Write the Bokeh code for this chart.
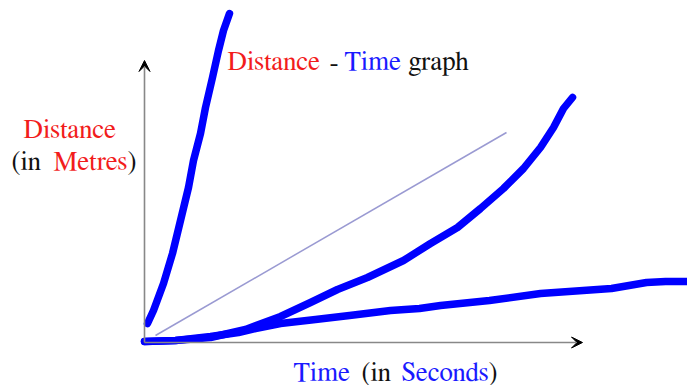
from bokeh.plotting import figure
from bokeh.models import Range1d, Arrow, VeeHead, ColumnDataSource
from bokeh.embed import file_html
from bokeh.resources import INLINE
from bokeh.core.properties import value

# Time / distance samples for the three motion curves (arbitrary units)
fast_time = [3, 9, 19, 28, 36, 44, 49, 56, 61, 68, 74, 79, 85]
fast_dist = [19, 32, 59, 89, 122, 155, 182, 209, 235, 265, 292, 312, 329]

accel_time = [0, 31, 66, 101, 136, 166, 193, 223, 259, 286, 313, 336, 359, 379, 396, 409, 419, 428]
accel_dist = [1, 2, 5, 13, 26, 40, 53, 65, 82, 99, 115, 134, 154, 174, 195, 215, 234, 245]

slow_time = [0, 31, 66, 94, 111, 136, 171, 205, 246, 275, 296, 345, 396, 467, 502, 521, 543]
slow_dist = [1, 2, 6, 10, 14, 19, 23, 27, 32, 34, 37, 42, 49, 54, 60, 61, 61]

# Constant-speed reference line
steady_time = [11, 362]
steady_dist = [7, 210]

# Axis arrow lengths
time_axis_end = 438
dist_axis_end = 282

# Text pieces: (text, x, y, colour)
RED, BLUE, BLACK = "#f21c1c", "#1a1aff", "#111111"
title_text = ["Distance", "-", "Time", "graph"]
title_x = [83, 185, 200, 264]
title_y = [281, 281, 281, 281]
title_color = [RED, BLACK, BLUE, BLACK]

ylab_text = ["Distance", "(in", "Metres", ")"]
ylab_x = [-121, -133, -91, -17]
ylab_y = [213, 181, 181, 181]
ylab_color = [RED, BLACK, RED, BLACK]

xlab_text = ["Time", "(in", "Seconds", ")"]
xlab_x = [149, 217, 257, 344]
xlab_y = [-30, -30, -30, -30]
xlab_color = [BLUE, BLACK, BLUE, BLACK]

SERIF = value("FreeSerif")

p = figure(width=687, height=385, x_range=Range1d(-144, 543), y_range=Range1d(-43, 342),
           output_backend="svg", toolbar_location=None, min_border=0,
           x_axis_location=None, y_axis_location=None)
p.grid.visible = False
p.outline_line_color = None
p.background_fill_color = "white"
p.border_fill_color = "white"

# Axes drawn as arrows
head = dict(size=11, line_color="black", fill_color="black", line_width=1)
p.add_layout(Arrow(end=VeeHead(**head), x_start=0, y_start=0, x_end=0, y_end=dist_axis_end,
                   line_color="#888888", line_width=1.6))
p.add_layout(Arrow(end=VeeHead(**head), x_start=0, y_start=0, x_end=time_axis_end, y_end=0,
                   line_color="#888888", line_width=1.6))

# Reference line
p.line(steady_time, steady_dist, line_color="#9a9ad2", line_width=1.5)

# Motion curves
for t, d in [(slow_time, slow_dist), (accel_time, accel_dist), (fast_time, fast_dist)]:
    p.line(t, d, line_color="#0000ff", line_width=7.5, line_cap="round", line_join="round")

# Labels
for txt, xs, ys, cs in [(title_text, title_x, title_y, title_color),
                        (ylab_text, ylab_x, ylab_y, ylab_color),
                        (xlab_text, xlab_x, xlab_y, xlab_color)]:
    src = ColumnDataSource(dict(x=xs, y=ys, text=txt, color=cs))
    p.text(x="x", y="y", text="text", source=src, text_color="color",
           text_font=SERIF, text_font_size="27px",
           text_align="left", text_baseline="alphabetic")

open("out.html", "w").write(file_html(p, INLINE))
